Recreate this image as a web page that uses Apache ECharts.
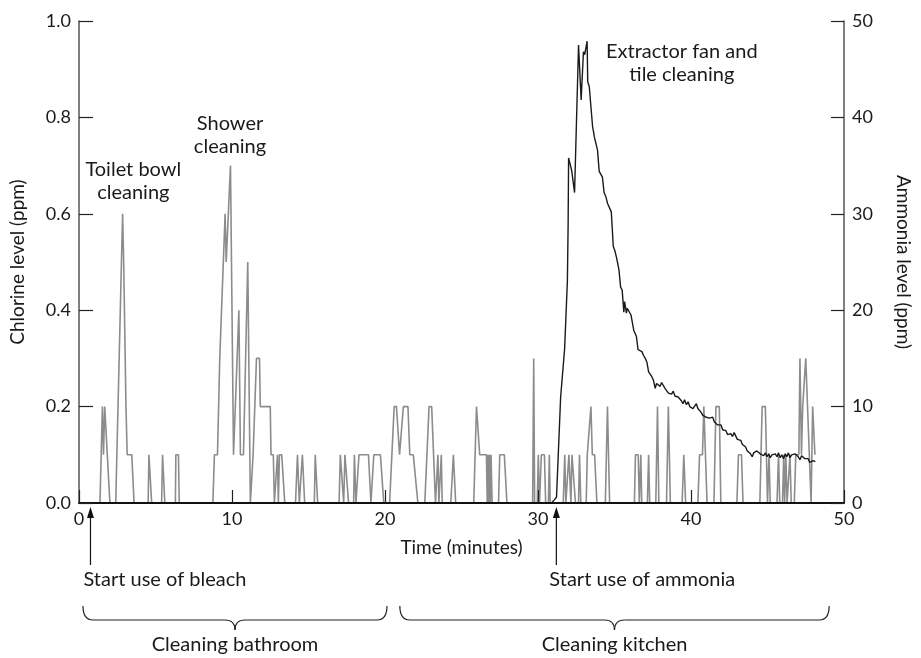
<!DOCTYPE html>
<html><head><meta charset="utf-8">
<script src="https://cdn.jsdelivr.net/npm/echarts@6/dist/echarts.min.js"></script>
<style>html,body{margin:0;padding:0;background:#fff}#c{width:921px;height:658px}</style>
</head><body><div id="c"></div>
<script>
// Chlorine (left axis, ppm) — time in minutes
const chlorineTime = [0.75,1.37,1.53,1.6,1.68,1.75,2.02,2.4,2.85,2.92,3.02,3.07,3.12,3.15,3.45,3.6,
4.52,4.57,4.75,5.4,5.46,5.61,6.3,6.33,6.5,6.55,8.75,8.85,9.05,9.2,9.55,9.62,9.9,10.1,10.45,10.55,10.75,11.03,11.2,
11.38,11.5,11.6,11.8,11.85,12.5,12.55,12.7,12.77,12.9,12.97,13.03,13.1,13.25,13.45,14.15,14.28,14.4,14.6,14.68,14.75,
15.38,15.44,15.6,17.0,17.08,17.2,17.3,17.38,17.5,17.62,17.95,18.0,18.1,18.2,18.3,18.92,19.08,19.15,19.27,19.7,19.92,
20.3,20.6,20.75,20.95,21.0,21.2,21.5,21.62,21.85,22.15,22.6,22.88,23.05,23.3,23.4,23.46,23.52,23.62,23.68,23.74,
24.3,24.47,24.62,25.8,25.98,26.19,26.63,26.68,26.73,26.78,26.83,26.88,26.93,27.0,27.42,27.5,27.8,27.97,
29.65,29.72,29.78,29.95,30.02,30.1,30.17,30.22,30.42,30.5,30.68,30.74,30.8,31.65,31.75,31.82,31.95,32.02,32.1,32.15,
32.22,32.35,32.45,32.65,32.71,32.8,33.15,33.22,33.35,33.46,33.55,33.7,33.85,34.4,34.54,34.68,36.3,36.37,36.55,36.62,
36.72,36.78,37.15,37.23,37.3,37.7,37.81,37.9,38.4,38.52,38.65,39.42,39.53,39.65,40.45,40.56,40.75,40.84,40.94,41.05,
41.5,41.63,41.85,41.95,43.0,43.1,43.3,43.4,44.5,44.65,44.86,45.0,45.04,45.1,45.18,45.62,45.72,45.8,45.98,46.06,46.12,
46.2,46.28,46.4,46.47,46.55,46.75,46.85,47.05,47.12,47.22,47.3,47.42,47.5,47.85,47.95,48.05,48.1];
const chlorineLevel = [0,0,0.2,0.1,0.2,0.2,0,0,0.6,0.5,0.5,0.2,0.2,0.1,0.1,0,
0,0.1,0,0,0.1,0,0,0.1,0.1,0,0,0.1,0.1,0.3,0.6,0.5,0.7,0.1,0.4,0.1,0.1,0.5,0,
0.1,0.1,0.3,0.3,0.2,0.2,0.1,0.1,0,0,0.1,0,0.1,0.1,0,0,0.1,0,0.1,0.1,0,
0,0.1,0,0,0.1,0.1,0,0.1,0.1,0,0,0.1,0,0,0.1,0.1,0,0,0.1,0.1,0,
0,0.2,0.2,0.1,0.1,0.2,0.2,0.1,0.1,0,0,0.2,0.2,0,0,0.1,0,0,0.1,0,
0,0.1,0,0,0.2,0.1,0.1,0,0.1,0,0.1,0,0.1,0,0,0.1,0.1,0,
0,0.3,0,0,0.1,0,0,0.1,0.1,0,0,0.1,0,0,0.1,0,0,0.1,0.1,0,
0.1,0.1,0,0,0.1,0,0,0.1,0.1,0.2,0.1,0.1,0,0,0.2,0,0,0.1,0.1,0,
0.1,0,0,0.1,0,0,0.2,0,0,0.2,0,0,0.1,0,0,0.1,0.1,0.2,0.2,0,
0,0.2,0.2,0,0,0.1,0.1,0,0,0.2,0.2,0,0,0.1,0,0,0.1,0,0,0.1,0,
0.1,0,0,0.1,0,0,0.1,0.1,0.3,0.1,0.2,0.2,0.3,0,0.2,0.2,0.1];

// Ammonia (right axis, ppm)
const ammoniaTime = [30.88,31.05,31.21,31.48,31.58,31.74,31.92,31.97,32.0,32.12,32.2,32.39,32.65,32.82,32.97,33.05,33.21,33.25,
33.35,33.46,33.57,33.62,33.68,33.78,33.89,34.0,34.1,34.21,34.32,34.43,34.54,34.65,34.79,34.92,35.02,35.14,35.29,35.4,35.5,
35.61,35.66,35.72,35.78,35.83,35.94,36.08,36.21,36.26,36.43,36.54,36.65,36.79,36.9,37.01,37.12,37.23,37.33,37.44,37.55,37.66,
37.75,37.87,37.98,38.08,38.19,38.3,38.4,38.52,38.62,38.73,38.84,38.95,39.05,39.16,39.27,39.37,39.48,39.58,39.7,39.81,39.92,
40.02,40.13,40.24,40.35,40.45,40.56,40.66,40.77,40.88,40.99,41.1,41.21,41.32,41.42,41.53,41.63,41.74,41.85,41.96,42.07,42.18,
42.28,42.39,42.5,42.6,42.71,42.82,42.92,43.03,43.14,43.25,43.35,43.46,43.57,43.68,43.78,43.89,44.0,44.1,44.2,44.3,44.43,44.53,
44.64,44.75,44.86,44.97,45.08,45.18,45.29,45.4,45.51,45.62,45.72,45.83,45.94,46.05,46.16,46.26,46.37,46.47,46.58,46.69,46.8,
46.9,47.01,47.12,47.23,47.33,47.44,47.55,47.66,47.76,47.87,47.98,48.08,48.13];
const ammoniaLevel = [0,0.3,0.6,11,11.2,16,23,29,35.8,35.8,34.5,32.2,47.5,41.8,46.8,46.5,47.9,43.7,
43.2,41.1,39.0,38.6,38.0,37.8,36.6,34.4,34.2,33.8,32.2,31.8,31.1,30.9,30.2,26.6,26.2,25.4,24.2,22.4,22.1,
19.8,20.9,20.3,19.7,20.2,20.0,19.5,19.4,17.9,17.3,15.9,16.1,15.7,15.3,15.0,14.6,13.6,13.5,13.1,12.7,11.9,
12.4,12.6,12.1,12.5,12.6,11.9,11.8,11.4,11.6,11.3,11.6,11.1,11.3,11.0,11.2,10.6,10.3,10.7,10.2,10.5,10.0,
10.2,9.8,9.9,10.3,9.8,10.0,9.4,9.1,9.3,8.9,9.0,8.8,8.6,8.9,8.4,8.5,8.1,7.9,8.1,7.6,7.8,
7.5,7.1,6.9,7.2,6.9,7.3,7.1,6.6,6.8,6.5,6.1,6.2,5.8,5.4,5.6,5.1,4.8,5.2,5.0,5.4,5.5,5.1,
5.3,4.9,5.2,4.8,5.1,4.7,5.0,4.8,5.1,4.8,5.2,4.7,5.0,4.6,5.1,4.8,5.2,4.7,5.0,4.8,5.1,
4.9,4.8,4.5,4.9,4.7,4.6,4.4,4.6,4.2,4.1,4.4,4.2,4.3];

const chlorineTicks = [0, 0.2, 0.4, 0.6, 0.8, 1.0];
const ammoniaTicks = [0, 10, 20, 30, 40, 50];
const timeTicks = [0, 10, 20, 30, 40, 50];

const peakNotes = [
  {text: 'Toilet bowl\ncleaning', t: 3.55, v: 0.668},
  {text: 'Shower\ncleaning', t: 9.87, v: 0.763},
  {text: 'Extractor fan and\ntile cleaning', t: 39.4, v: 0.912}
];
const events = [{text: 'Start use of bleach', t: 0.75}, {text: 'Start use of ammonia', t: 31.2}];
const phases = [{text: 'Cleaning bathroom', from: 0.26, to: 20.13}, {text: 'Cleaning kitchen', from: 20.97, to: 49.03}];

const FONT = 'Lato';
const TXT = '#1a1a1a';
const chart = echarts.init(document.getElementById('c'));
const pair = (xs, ys) => xs.map((x, i) => [x, ys[i]]);

chart.setOption({
  animation: false,
  grid: {left: 78, right: 68, top: 21, bottom: 155},
  xAxis: {
    type: 'value', min: timeTicks[0], max: timeTicks[timeTicks.length-1], interval: 10, z: 5,
    name: 'Time (minutes)', nameLocation: 'middle', nameGap: 35,
    nameTextStyle: {fontFamily: FONT, fontSize: 19, color: TXT},
    axisLine: {lineStyle: {color: '#111', width: 2}},
    axisTick: {inside: true, length: 13, lineStyle: {color: '#222', width: 1.2}},
    axisLabel: {fontFamily: FONT, fontSize: 18, color: TXT, margin: 7},
    splitLine: {show: false}
  },
  yAxis: [{
    type: 'value', min: chlorineTicks[0], max: chlorineTicks[chlorineTicks.length-1], interval: 0.2, z: 5,
    name: 'Chlorine level (ppm)', nameLocation: 'middle', nameGap: 52, nameRotate: 90,
    nameTextStyle: {fontFamily: FONT, fontSize: 19, color: TXT},
    axisLine: {show: true, lineStyle: {color: '#555', width: 1.5}},
    axisTick: {show: true, inside: true, length: 14, lineStyle: {color: '#222', width: 1.2}},
    axisLabel: {fontFamily: FONT, fontSize: 18, color: TXT, margin: 8, formatter: v => v.toFixed(1)},
    splitLine: {show: false}
  }, {
    type: 'value', min: ammoniaTicks[0], max: ammoniaTicks[ammoniaTicks.length-1], interval: 10, position: 'right', z: 5,
    name: 'Ammonia level (ppm)', nameLocation: 'middle', nameGap: 50, nameRotate: -90,
    nameTextStyle: {fontFamily: FONT, fontSize: 19, color: TXT},
    axisLine: {show: true, lineStyle: {color: '#555', width: 1.5}},
    axisTick: {show: true, inside: true, length: 13, lineStyle: {color: '#222', width: 1.2}},
    axisLabel: {fontFamily: FONT, fontSize: 18, color: TXT, margin: 8},
    splitLine: {show: false}
  }],
  series: [{
    name: 'Chlorine', type: 'line', yAxisIndex: 0, showSymbol: false, symbol: 'none',
    data: pair(chlorineTime, chlorineLevel),
    lineStyle: {color: '#8c8c8c', width: 1.6}, z: 2
  }, {
    name: 'Ammonia', type: 'line', yAxisIndex: 1, showSymbol: false, symbol: 'none',
    data: pair(ammoniaTime, ammoniaLevel),
    lineStyle: {color: '#1a1a1a', width: 1.4}, z: 3
  }]
});

function px(t, v) { return chart.convertToPixel({xAxisIndex: 0, yAxisIndex: 0}, [t, v]); }
const axisY = px(0, 0)[1];
const g = [];
const stroke = {stroke: '#222', lineWidth: 1.2, fill: null};
const NOTE = 20;
peakNotes.forEach(n => {
  const p = px(n.t, n.v);
  g.push({type: 'text', x: p[0], y: p[1], z: 10, style: {text: n.text, fontFamily: FONT, fontSize: NOTE, fill: TXT,
    textAlign: 'center', textVerticalAlign: 'middle', lineHeight: 23}});
});
events.forEach(e => {
  const x = px(e.t, 0)[0];
  g.push({type: 'line', z: 10, shape: {x1: x, y1: axisY + 62, x2: x, y2: axisY + 12}, style: {stroke: '#111', lineWidth: 1.2}});
  g.push({type: 'polygon', z: 10, shape: {points: [[x, axisY + 4], [x - 3.5, axisY + 15], [x + 3.5, axisY + 15]]}, style: {fill: '#111'}});
  g.push({type: 'text', z: 10, x: x - 7, y: axisY + 77, style: {text: e.text, fontFamily: FONT, fontSize: NOTE, fill: TXT,
    textAlign: 'left', textVerticalAlign: 'middle'}});
});
phases.forEach(ph => {
  const x1 = px(ph.from, 0)[0], x2 = px(ph.to, 0)[0], xm = (x1 + x2) / 2;
  const yT = axisY + 103, yL = axisY + 117, yTip = axisY + 127, r = 10;
  const bez = (ax, ay, cx, cy, bx, by) => ({type: 'bezierCurve', z: 10, shape: {x1: ax, y1: ay, cpx1: cx, cpy1: cy, x2: bx, y2: by}, style: stroke});
  g.push(bez(x1, yT, x1, yL, x1 + r, yL));
  g.push({type: 'line', z: 10, shape: {x1: x1 + r, y1: yL, x2: xm - r, y2: yL}, style: stroke});
  g.push(bez(xm - r, yL, xm, yL, xm, yTip));
  g.push(bez(xm, yTip, xm, yL, xm + r, yL));
  g.push({type: 'line', z: 10, shape: {x1: xm + r, y1: yL, x2: x2 - r, y2: yL}, style: stroke});
  g.push(bez(x2 - r, yL, x2, yL, x2, yT));
  g.push({type: 'text', z: 10, x: xm, y: axisY + 142, style: {text: ph.text, fontFamily: FONT, fontSize: NOTE, fill: TXT,
    textAlign: 'center', textVerticalAlign: 'middle'}});
});
chart.setOption({graphic: g});
</script></body></html>
